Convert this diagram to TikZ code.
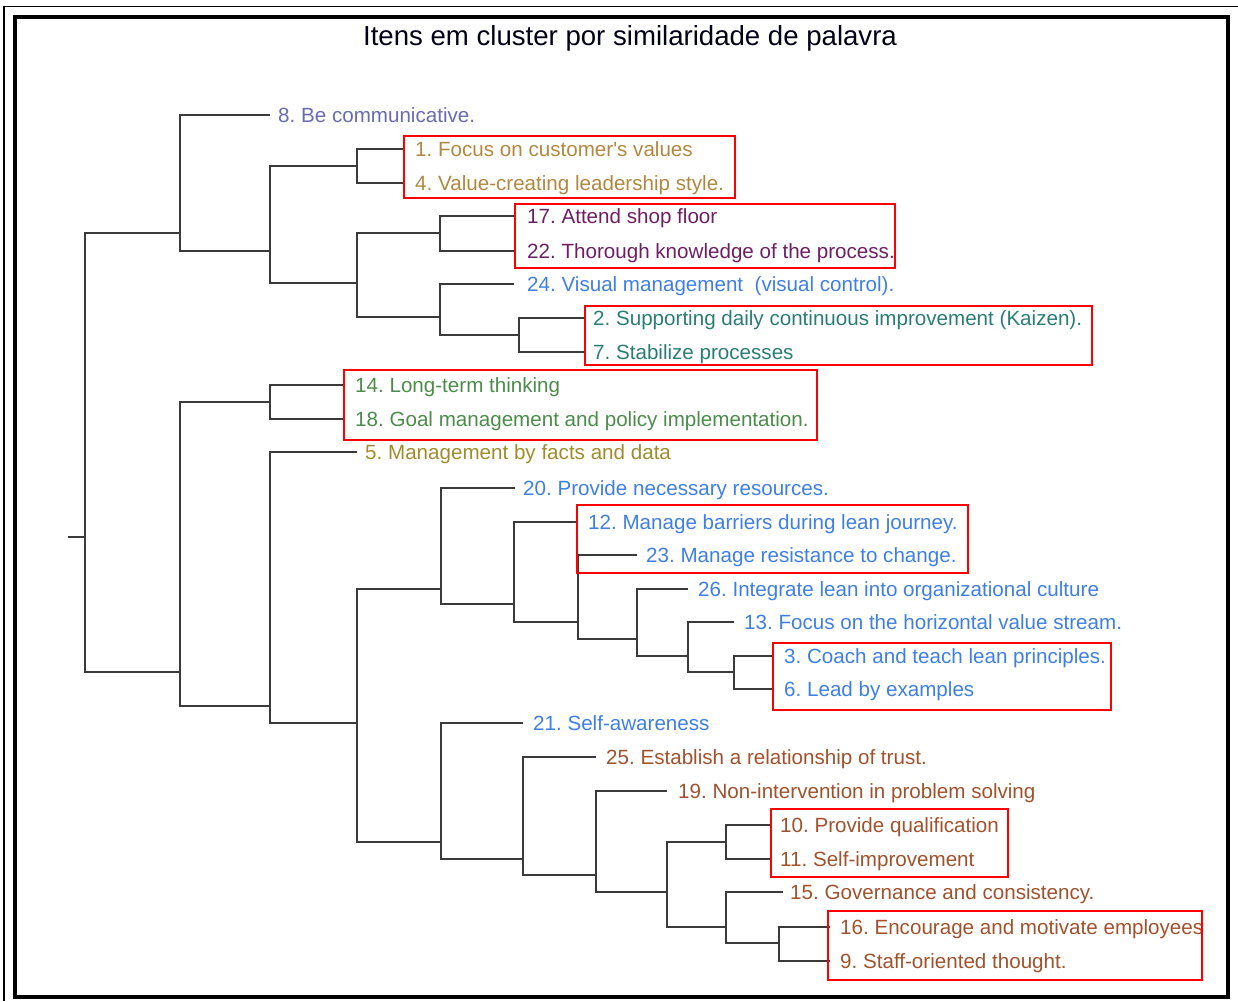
\documentclass[tikz,border=0pt]{standalone}
\usepackage{fontspec}
\setmainfont{Liberation Sans}
\frenchspacing
\definecolor{treeline}{HTML}{3A3A3A}
\definecolor{cSlate}{HTML}{6A6AB0}
\definecolor{cGold}{HTML}{B08840}
\definecolor{cPlum}{HTML}{6E1F63}
\definecolor{cBlue}{HTML}{3F7FE4}
\definecolor{cTeal}{HTML}{2A7D73}
\definecolor{cGreen}{HTML}{4C8C4A}
\definecolor{cOlive}{HTML}{A08C2C}
\definecolor{cBrown}{HTML}{A0522D}
\definecolor{boxred}{HTML}{FF0000}
\begin{document}
\begin{tikzpicture}[x=1pt,y=-1pt,
  branch/.style={draw=treeline,line width=2.1pt},
  lbl/.style={anchor=west,inner sep=0pt,text height=15pt,text depth=0pt,
    font=\fontsize{20.6}{24}\selectfont},
  groupbox/.style={draw=boxred,line width=2pt},
  titletext/.style={inner sep=0pt,font=\fontsize{27.6}{32}\selectfont,text=black!92!blue}]
\useasboundingbox (0,0) rectangle (1238,1001);

% frames
\draw[line width=1.8pt] (4,1001) -- (4,6.5) -- (1238,6.5);
\draw[line width=4pt] (14.5,17) rectangle (1228,996.5);

% title
\node[titletext] (title) at (630,38) {Itens em cluster por similaridade de palavra};

% cluster junctions (x of the vertical bar, y where the parent joins)
\coordinate (root) at (85,537);
\coordinate (stub) at (68,537);
\coordinate (nA) at (180,233);
\coordinate (nB) at (270,251);
\coordinate (nC) at (357,166);
\coordinate (nD) at (357,283);
\coordinate (nE) at (440,233);
\coordinate (nF) at (440,317);
\coordinate (nG) at (519,335);
\coordinate (nH) at (180,672);
\coordinate (nI) at (270,402);
\coordinate (nJ) at (270,706);
\coordinate (nK) at (357,723);
\coordinate (nL) at (441,589);
\coordinate (nM) at (514,604);
\coordinate (nN) at (578,622);
\coordinate (nO) at (637,639);
\coordinate (nP) at (688,656);
\coordinate (nQ) at (734,672);
\coordinate (nR) at (441,842);
\coordinate (nS) at (523,859);
\coordinate (nT) at (596,875);
\coordinate (nU) at (667,892);
\coordinate (nV) at (726,842);
\coordinate (nW) at (726,927);
\coordinate (nX) at (779,943);

% leaf ends
\coordinate (e8) at (270,115);
\coordinate (e1) at (403,149);
\coordinate (e4) at (403,183);
\coordinate (e17) at (515,216);
\coordinate (e22) at (515,251);
\coordinate (e24) at (514,284);
\coordinate (e2) at (585,318);
\coordinate (e7) at (585,352);
\coordinate (e14) at (345,385);
\coordinate (e18) at (345,419);
\coordinate (e5) at (357,452);
\coordinate (e20) at (515,488);
\coordinate (e12) at (577,522);
\coordinate (e23) at (637,555);
\coordinate (e26) at (688,589);
\coordinate (e13) at (734,622);
\coordinate (e3) at (773,656);
\coordinate (e6) at (773,689);
\coordinate (e21) at (523,723);
\coordinate (e25) at (596,757);
\coordinate (e19) at (667,791);
\coordinate (e10) at (772,825);
\coordinate (e11) at (772,859);
\coordinate (e15) at (783,892);
\coordinate (e16) at (830,927);
\coordinate (e9) at (830,961);

% dendrogram branches
\draw[branch] (stub) -- (root);
\draw[branch] (nA) -| (root) |- (nH);
\draw[branch] (e8) -| (nA) |- (nB);
\draw[branch] (nC) -| (nB) |- (nD);
\draw[branch] (e1) -| (nC) |- (e4);
\draw[branch] (nE) -| (nD) |- (nF);
\draw[branch] (e17) -| (nE) |- (e22);
\draw[branch] (e24) -| (nF) |- (nG);
\draw[branch] (e2) -| (nG) |- (e7);
\draw[branch] (nI) -| (nH) |- (nJ);
\draw[branch] (e14) -| (nI) |- (e18);
\draw[branch] (e5) -| (nJ) |- (nK);
\draw[branch] (nL) -| (nK) |- (nR);
\draw[branch] (e20) -| (nL) |- (nM);
\draw[branch] (e12) -| (nM) |- (nN);
\draw[branch] (e23) -| (nN) |- (nO);
\draw[branch] (e26) -| (nO) |- (nP);
\draw[branch] (e13) -| (nP) |- (nQ);
\draw[branch] (e3) -| (nQ) |- (e6);
\draw[branch] (e21) -| (nR) |- (nS);
\draw[branch] (e25) -| (nS) |- (nT);
\draw[branch] (e19) -| (nT) |- (nU);
\draw[branch] (nV) -| (nU) |- (nW);
\draw[branch] (e10) -| (nV) |- (e11);
\draw[branch] (e15) -| (nW) |- (nX);
\draw[branch] (e16) -| (nX) |- (e9);

% item labels
\node[lbl,text=cSlate] (t8) at (278,115) {8. Be communicative.};
\node[lbl,text=cGold] (t1) at (415,149) {1. Focus on customer\textquotesingle s values};
\node[lbl,text=cGold] (t4) at (415,183) {4. Value-creating leadership style.};
\node[lbl,text=cPlum] (t17) at (527,216) {17. Attend shop floor};
\node[lbl,text=cPlum] (t22) at (527,251) {22. Thorough knowledge of the process.};
\node[lbl,text=cBlue] (t24) at (527,284) {24. Visual management\ \ (visual control).};
\node[lbl,text=cTeal] (t2) at (593,318) {2. Supporting daily continuous improvement (Kaizen).};
\node[lbl,text=cTeal] (t7) at (593,352) {7. Stabilize processes};
\node[lbl,text=cGreen] (t14) at (355,385) {14. Long-term thinking};
\node[lbl,text=cGreen] (t18) at (355,419) {18. Goal management and policy implementation.};
\node[lbl,text=cOlive] (t5) at (365,452) {5. Management by facts and data};
\node[lbl,text=cBlue] (t20) at (523,488) {20. Provide necessary resources.};
\node[lbl,text=cBlue] (t12) at (588,522) {12. Manage barriers during lean journey.};
\node[lbl,text=cBlue] (t23) at (646,555) {23. Manage resistance to change.};
\node[lbl,text=cBlue] (t26) at (698,589) {26. Integrate lean into organizational culture};
\node[lbl,text=cBlue] (t13) at (744,622) {13. Focus on the horizontal value stream.};
\node[lbl,text=cBlue] (t3) at (784,656) {3. Coach and teach lean principles.};
\node[lbl,text=cBlue] (t6) at (784,689) {6. Lead by examples};
\node[lbl,text=cBlue] (t21) at (533,723) {21. Self-awareness};
\node[lbl,text=cBrown] (t25) at (606,757) {25. Establish a relationship of trust.};
\node[lbl,text=cBrown] (t19) at (678,791) {19. Non-intervention in problem solving};
\node[lbl,text=cBrown] (t10) at (780,825) {10. Provide qualification};
\node[lbl,text=cBrown] (t11) at (780,859) {11. Self-improvement};
\node[lbl,text=cBrown] (t15) at (790,892) {15. Governance and consistency.};
\node[lbl,text=cBrown] (t16) at (840,927) {16. Encourage and motivate employees};
\node[lbl,text=cBrown] (t9) at (840,961) {9. Staff-oriented thought.};

% highlighted groups
\draw[groupbox] (404,136) rectangle (735,198);
\draw[groupbox] (515,204) rectangle (895,268);
\draw[groupbox] (585,306) rectangle (1092,365);
\draw[groupbox] (344,370) rectangle (817,440);
\draw[groupbox] (577,505) rectangle (968,573);
\draw[groupbox] (773,643) rectangle (1111,710);
\draw[groupbox] (771,809) rectangle (1008,877);
\draw[groupbox] (828,911) rectangle (1202,980);
\end{tikzpicture}
\end{document}
